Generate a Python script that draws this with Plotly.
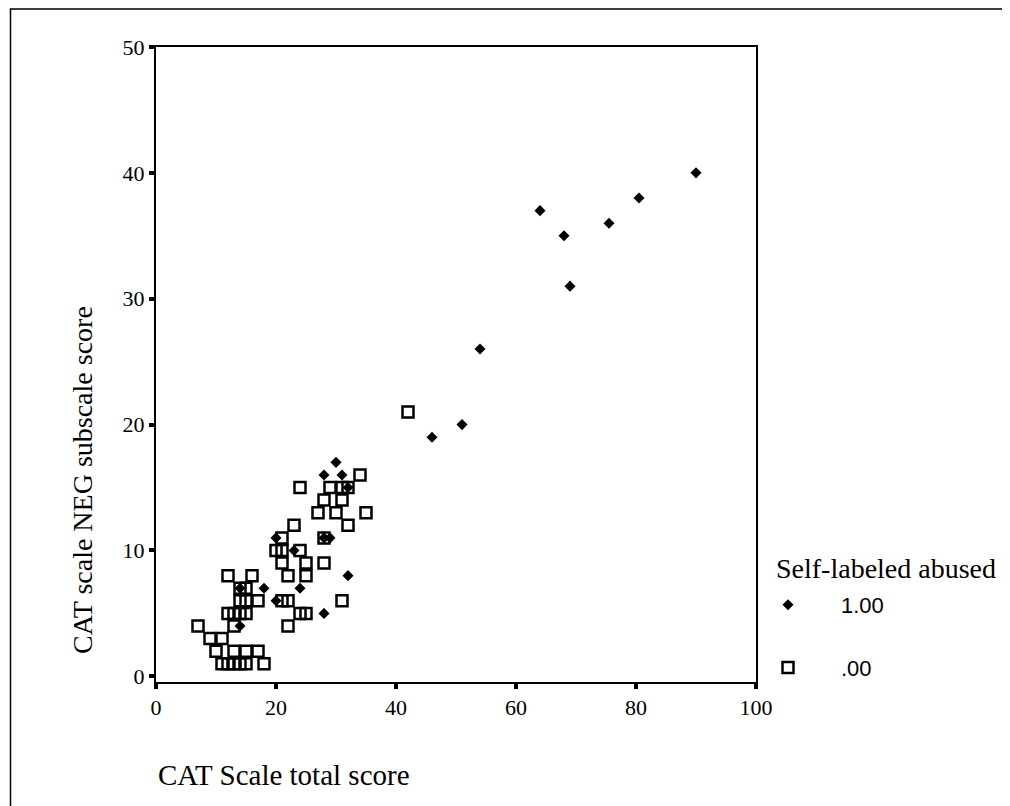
import plotly.graph_objects as go

# Self-labeled abused = 1.00 (filled diamonds)
abused_total = [30, 28, 31, 32, 20, 28, 29, 23, 32, 14, 18, 24, 20, 28, 14,
                46, 51, 54, 69, 68, 64, 75.5, 80.5, 90]
abused_neg = [17, 16, 16, 15, 11, 11, 11, 10, 8, 7, 7, 7, 6, 5, 4,
              19, 20, 26, 31, 35, 37, 36, 38, 40]

# Self-labeled abused = .00 (open squares)
notabused_total = [34, 24, 29, 31, 32, 28, 31, 27, 30, 35, 23, 32, 21, 28,
                   20, 21, 24, 21, 25, 28, 12, 16, 22, 25, 14, 15,
                   14, 15, 17, 21, 22, 31, 12, 13, 14, 15, 24, 25,
                   7, 13, 22, 9, 11, 10, 13, 15, 17,
                   11, 12, 13, 14, 15, 18, 42]
notabused_neg = [16, 15, 15, 15, 15, 14, 14, 13, 13, 13, 12, 12, 11, 11,
                 10, 10, 10, 9, 9, 9, 8, 8, 8, 8, 7, 7,
                 6, 6, 6, 6, 6, 6, 5, 5, 5, 5, 5, 5,
                 4, 4, 4, 3, 3, 2, 2, 2, 2,
                 1, 1, 1, 1, 1, 1, 21]

x_ticks = [0, 20, 40, 60, 80, 100]
y_ticks = [0, 10, 20, 30, 40, 50]
group_names = ["1.00", ".00"]
legend_title = "Self-labeled abused"

# page is rendered with an 8px body margin
OFF = 8
W, H = 1010 - OFF, 806 - OFF
# plot area in page pixels: x 156..756, y 47..682
PX0, PX1, PY0, PY1 = 156, 756, 47, 682
L = PX0 - OFF
T = PY0 - OFF
R = W - (PX1 - OFF)
B = H - (PY1 - OFF)
pw, ph = PX1 - PX0, PY1 - PY0


def px_x(p):
    return (p - PX0) / pw


def px_y(p):
    return (PY1 - p) / ph


SERIF = "Liberation Serif"
SANS = "Liberation Sans"

fig = go.Figure()
fig.add_trace(go.Scatter(
    x=notabused_total, y=notabused_neg, mode="markers", name=group_names[1],
    legendgroup="g0", legendrank=2,
    marker=dict(symbol="square-open", size=11, color="black",
                line=dict(width=2.5, color="black")),
))
fig.add_trace(go.Scatter(
    x=abused_total, y=abused_neg, mode="markers", name=group_names[0],
    legendgroup="g1", legendrank=1,
    marker=dict(symbol="diamond", size=8.5, color="black",
                line=dict(width=0)),
))

axis_common = dict(
    showgrid=False, zeroline=False, showline=True, linewidth=2,
    linecolor="black", mirror=True, ticks="outside", ticklen=5,
    tickwidth=4, tickcolor="black",
    tickfont=dict(family=SERIF, size=22, color="black"),
)
fig.update_xaxes(range=[0, 100], tickvals=x_ticks, **axis_common)
fig.update_yaxes(range=[-0.45, 50], tickvals=y_ticks, **axis_common)

fig.update_layout(
    width=W, height=H,
    margin=dict(l=L, r=R, t=T, b=B, autoexpand=False),
    plot_bgcolor="white", paper_bgcolor="white",
    font=dict(family=SERIF, size=22, color="black"),
    showlegend=True,
    legend=dict(
        x=px_x(735), xanchor="left", y=px_y(584), yanchor="top",
        font=dict(family=SANS, size=22, color="black"),
        traceorder="grouped", tracegroupgap=31, itemwidth=96,
        bgcolor="rgba(0,0,0,0)",
    ),
    annotations=[
        dict(text=legend_title, xref="paper", yref="paper",
             x=px_x(774), y=px_y(568), xanchor="left", yanchor="middle",
             showarrow=False, font=dict(family=SERIF, size=28, color="black")),
        dict(text="CAT Scale total score", xref="paper", yref="paper",
             x=0, y=px_y(775), xanchor="left", yanchor="middle",
             showarrow=False, font=dict(family=SERIF, size=29, color="black")),
        dict(text="CAT scale NEG subscale score", xref="paper", yref="paper",
             x=px_x(82), y=px_y(480), xanchor="center", yanchor="middle",
             textangle=-90, showarrow=False,
             font=dict(family=SERIF, size=28, color="black")),
    ],
    shapes=[
        dict(type="rect", xref="paper", yref="paper",
             x0=px_x(10.5), x1=px_x(1003), y0=px_y(840), y1=px_y(9),
             line=dict(color="black", width=1.5), layer="below"),
    ],
)

fig.write_html("out.html")
